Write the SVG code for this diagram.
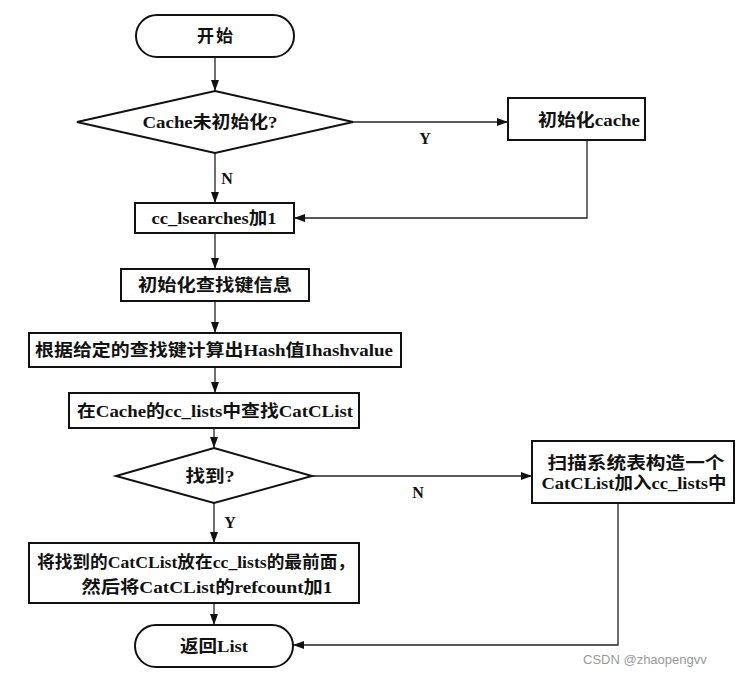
<svg xmlns="http://www.w3.org/2000/svg" width="743" height="677" viewBox="0 0 743 677">
<style>
.box{fill:#fff;stroke:#111;stroke-width:2}
.t{font-family:"Liberation Serif","Noto Sans CJK SC",serif;font-size:17px;font-weight:bold;fill:#111;text-anchor:middle;dominant-baseline:central}
.lbl{font-family:"Liberation Serif","Noto Sans CJK SC",serif;font-size:16px;font-weight:bold;fill:#111;text-anchor:middle;dominant-baseline:central}
.c{fill:none;stroke:#222;stroke-width:1.3}
.wm{font-family:"Liberation Sans","Noto Sans CJK SC",sans-serif;font-size:13px;fill:#999}
</style>
<defs>
<marker id="ah" markerUnits="userSpaceOnUse" markerWidth="12" markerHeight="10" refX="11" refY="4" orient="auto">
<path d="M0,0 L11,4 L0,8 z" fill="#111"/>
</marker>
</defs>
<rect width="743" height="677" fill="#fff"/>
<g id="connectors">
<line class="c" x1="215" y1="57" x2="215" y2="91" marker-end="url(#ah)"/>
<line class="c" x1="215" y1="153" x2="215" y2="203" marker-end="url(#ah)"/>
<line class="c" x1="353" y1="122" x2="508" y2="122" marker-end="url(#ah)"/>
<polyline class="c" points="587,140 587,218 294,218" marker-end="url(#ah)"/>
<line class="c" x1="215" y1="233" x2="215" y2="269" marker-end="url(#ah)"/>
<line class="c" x1="215" y1="301" x2="215" y2="333" marker-end="url(#ah)"/>
<line class="c" x1="215" y1="367" x2="215" y2="393" marker-end="url(#ah)"/>
<line class="c" x1="214" y1="428" x2="214" y2="448" marker-end="url(#ah)"/>
<line class="c" x1="312" y1="476" x2="532" y2="476" marker-end="url(#ah)"/>
<line class="c" x1="214" y1="503" x2="214" y2="543" marker-end="url(#ah)"/>
<line class="c" x1="214" y1="603" x2="214" y2="625" marker-end="url(#ah)"/>
<polyline class="c" points="618,503 618,645 293,645" marker-end="url(#ah)"/>
<text class="lbl" x="227" y="178">N</text>
<text class="lbl" x="425" y="138">Y</text>
<text class="lbl" x="418" y="492">N</text>
<text class="lbl" x="230" y="522">Y</text>
</g>
<g id="start">
<rect class="box" x="136" y="15" width="158" height="42" rx="21"/>
<text class="t" x="215" y="36" textLength="36">开始</text>
</g>
<g id="cacheCheck">
<polygon class="box" points="215,91 353,122 215,153 77,122"/>
<text class="t" x="210" y="122" textLength="135" lengthAdjust="spacingAndGlyphs">Cache未初始化?</text>
</g>
<g id="initCache">
<rect class="box" x="508" y="98" width="137" height="42"/>
<text class="t" x="589" y="120" textLength="102" lengthAdjust="spacingAndGlyphs">初始化cache</text>
</g>
<g id="lsearches">
<rect class="box" x="135" y="203" width="159" height="30"/>
<text class="t" x="214" y="218" textLength="125" lengthAdjust="spacingAndGlyphs">cc_lsearches加1</text>
</g>
<g id="initKey">
<rect class="box" x="121" y="269" width="188" height="32"/>
<text class="t" x="215" y="285" textLength="154" lengthAdjust="spacingAndGlyphs">初始化查找键信息</text>
</g>
<g id="hash">
<rect class="box" x="29" y="333" width="372" height="34"/>
<text class="t" x="214" y="350" textLength="358" lengthAdjust="spacingAndGlyphs">根据给定的查找键计算出Hash值Ihashvalue</text>
</g>
<g id="search">
<rect class="box" x="69" y="393" width="290" height="35"/>
<text class="t" x="215" y="411" textLength="276" lengthAdjust="spacingAndGlyphs">在Cache的cc_lists中查找CatCList</text>
</g>
<g id="found">
<polygon class="box" points="214,448 312,476 214,503 116,476"/>
<text class="t" x="210" y="476" textLength="49" lengthAdjust="spacingAndGlyphs">找到?</text>
</g>
<g id="scan">
<rect class="box" x="532" y="441" width="202" height="62"/>
<text class="t" x="636" y="463" textLength="177" lengthAdjust="spacingAndGlyphs">扫描系统表构造一个</text>
<text class="t" x="634" y="483" textLength="185" lengthAdjust="spacingAndGlyphs">CatCList加入cc_lists中</text>
</g>
<g id="moveFront">
<rect class="box" x="29" y="543" width="330" height="60"/>
<text class="t" x="196" y="562" textLength="318" lengthAdjust="spacingAndGlyphs">将找到的CatCList放在cc_lists的最前面，</text>
<text class="t" x="207" y="587" textLength="251" lengthAdjust="spacingAndGlyphs">然后将CatCList的refcount加1</text>
</g>
<g id="return">
<rect class="box" x="135" y="625" width="158" height="42" rx="21"/>
<text class="t" x="214" y="646" textLength="68" lengthAdjust="spacingAndGlyphs">返回List</text>
</g>
<text class="wm" x="583" y="664">CSDN @zhaopengvv</text>
</svg>
